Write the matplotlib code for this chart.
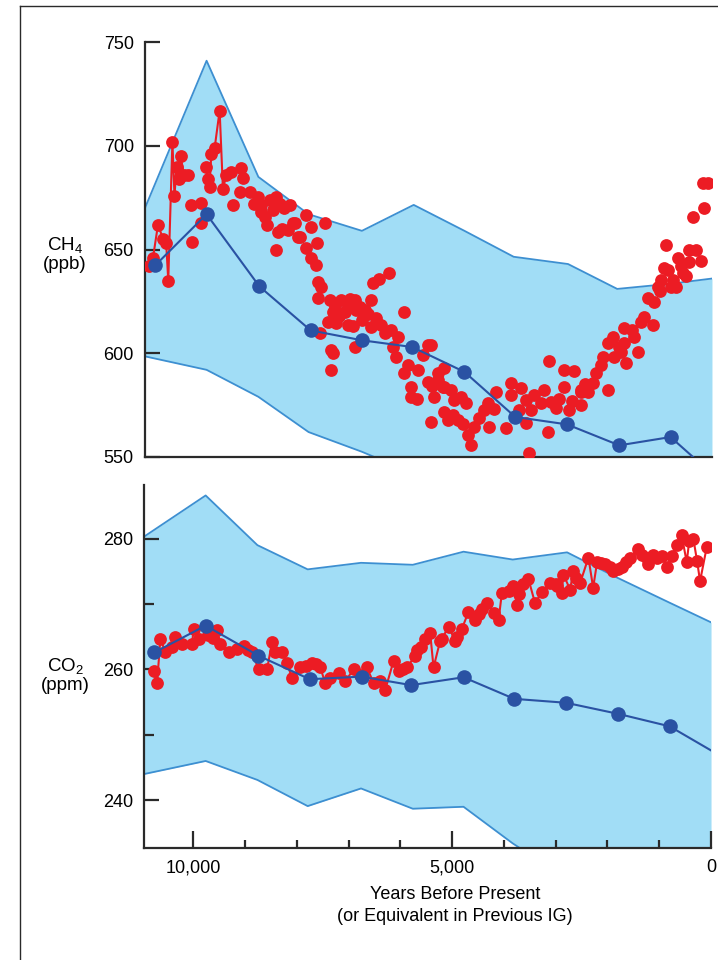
import matplotlib
matplotlib.use('Agg')
import matplotlib.pyplot as plt
from matplotlib.lines import Line2D

plt.rcParams['font.family'] = ['Liberation Sans', 'DejaVu Sans']

# --- shaded envelope (range of previous interglacials) ---
env_years = [10950, 9760, 8760, 7790, 6760, 5760, 4780, 3830, 2780, 1830, 800, 0]
ch4_env_hi = [670, 741, 685, 667, 659, 671.5, 659, 646.5, 643, 631, 633.5, 636]
ch4_env_lo = [598.5, 592, 579, 562, 552.5, 542, 530, 520, 510, 500, 490, 480]
co2_env_hi = [280.3, 286.6, 279, 275.3, 276.3, 276, 278, 276.8, 277.9, 274.1, 270.2, 267.2]
co2_env_lo = [244, 246, 243.1, 239.1, 241.8, 238.7, 239, 233.4, 228, 223, 218, 214]

# --- blue: average of previous interglacials ---
avg_years = [10750, 9760, 8740, 7750, 6750, 5790, 4780, 3800, 2800, 1790, 800, -220]
ch4_avg = [642.4, 667, 632.2, 611, 606.2, 603, 591, 569.3, 565.7, 555.6, 559.6, 537]
co2_avg = [262.6, 266.7, 262.1, 258.5, 258.9, 257.6, 258.8, 255.5, 254.9, 253.2, 251.3, 246.6]

# --- red: Holocene CH4 (early part shown joined by a line) ---
ch4_seg1_years = [10880, 10795, 10698, 10600, 10540, 10500, 10420, 10380, 10340, 10300, 10261, 10200]
ch4_seg1 = [642, 646, 662, 655, 653, 635, 702, 676, 690, 684, 695, 686]
ch4_seg2_years = [9766, 9733, 9702, 9669, 9604, 9508, 9444, 9380, 9283]
ch4_seg2 = [690, 684, 680, 696, 699, 717, 679, 686, 687.5]

ch4_years = [10120, 10055, 9862, 10042, 9862, 9103, 9058, 9251, 9123, 8930, 8850, 8769,
             8704, 8700, 8640, 8600, 8544, 8480, 8415, 8382, 8415, 8350, 8300, 8260, 8190,
             8093, 8158, 7996, 8062, 7836, 7739, 7482, 7965, 7836, 7624, 7739, 7643, 7610,
             7546, 7610, 7385, 7288, 7160, 7031, 6902, 6806, 6581, 7320, 7096, 6870, 6710,
             7417, 7256, 7031, 6934, 7578, 7353, 7320, 7353, 6902, 6552, 6421, 6228, 6485,
             6388, 6581, 6324, 6195, 6066, 6163, 6099, 5939, 5487, 5584, 5874, 5681, 5939,
             5810, 5487, 5294, 5198, 5810, 5423, 5167, 5294, 5167, 5360, 5037, 4973, 4844,
             4748, 5167, 5101, 4909, 5423, 4587, 4716, 4651, 4394, 4329, 4169, 4297, 3976,
             3879, 3879, 3686, 3590, 3430, 3237, 3719, 3493, 3590, 3140, 3172, 3107, 3011,
             2851, 2658, 2851, 2754, 2528, 2528, 2400, 3526, 2528, 2303, 2239, 2142, 2013,
             2013, 1917, 1885, 1756, 1692, 1660, 1692, 1499, 1435, 1370, 1306, 1145, 1241,
             1113, 1048, 919, 758, 695, 566, 438, 438, 309, 212, 662, 888, 373, 149, 180,
             83, 984, 791,
             7200, 7000, 6750, 6650, 5700, 5400, 5000, 4800, 4500, 4200, 3300, 2950, 2700,
             2450, 2100, 1800, 1550, 1000, 850, 600, 500]
ch4_vals = [686, 671.4, 672.3, 653.8, 662.6, 689.1, 684.3, 671.4, 677.9, 677.9, 672, 675.5,
            671.4, 668, 665.8, 662, 673.9, 669, 675.5, 658.6, 649.8, 672, 660, 670, 659.4,
            662.6, 671.4, 656.2, 662.6, 666.6, 661, 662.6, 656.2, 650.6, 653, 645.8, 642.5, 634.5,
            632, 626.5, 625.7, 622.4, 625.7, 622.4, 625.7, 622.4, 625.7, 620, 620, 621, 621,
            615.2, 614.4, 613.6, 613.1, 609.6, 601.6, 600, 592, 603.2, 633.7, 636, 638.5, 616.8,
            613.6, 612.8, 609.6, 611.2, 608, 603.2, 598.4, 620, 604, 599.2, 594.3, 592, 590.3,
            583.9, 586.3, 590.3, 583.9, 579, 604, 592.8, 587.1, 583.9, 579, 582.3, 577.5, 579,
            575.9, 571.8, 567.8, 567.8, 567, 564.6, 560.6, 555.8, 572.6, 575.9, 581.5, 564.6, 563.8,
            585.5, 579.9, 583.1, 577.5, 579.9, 582.3, 572.6, 572.6, 566.2, 596.4, 562.2, 576.7, 573.5,
            592, 591.2, 583.9, 572.6, 575, 581.5, 581.5, 551.8, 582.3, 585.5, 590.3, 594.3, 582.3,
            604.8, 608, 598.4, 600.8, 604.8, 595.2, 612, 608, 600.8, 615.2, 617.6, 613.6, 626.5,
            624.9, 632, 641, 635.3, 632, 638.5, 644.1, 649.8, 649.8, 644.6, 645.8, 652.2, 665.8, 669.9, 681.9,
            681.9, 635.3, 632,
            618, 626, 616, 619, 578, 584, 570, 566, 569, 573, 576, 578, 577,
            585, 598, 603, 611, 630, 640, 642, 637]

# --- red: Holocene CO2 ---
co2_years = [10765, 10698, 10634, 10538, 10409, 10345, 10216, 10023, 9991, 9895, 9708, 9620, 9540,
             9476, 9316, 9154, 9026, 8950, 8864, 8736, 8574, 8478, 8415, 8285, 8189, 8093, 7933,
             7820, 7707, 7620, 7546, 7450, 7353, 7193, 7064, 6902, 6780, 6645, 6516, 6400, 6291,
             6131, 6034, 5950, 5873, 5713, 5681, 5600, 5520, 5423, 5359, 5230, 5198, 5069, 4941,
             4900, 4812, 4684, 4555, 4480, 4426, 4329, 4201, 4104, 4039, 3900, 3815, 3751, 3700,
             3622, 3526, 3397, 3268, 3107, 3000, 2978, 2883, 2851, 2721, 2658, 2600, 2528, 2368,
             2277, 2200, 2130, 2046, 1950, 1885, 1800, 1723, 1640, 1563, 1402, 1330, 1241, 1209,
             1130, 1048, 952, 856, 759, 663, 566, 470, 420, 342, 270, 212, 83]
co2_vals = [259.8, 257.9, 264.7, 262.6, 263.4, 264.9, 263.9, 263.9, 266.2, 264.7, 265.2, 264.8, 266.0,
            263.9, 262.6, 263.1, 263.6, 263.0, 262.6, 260.0, 260.0, 264.2, 262.6, 262.6, 261.0, 258.7, 260.3,
            260.5, 261.0, 260.8, 260.3, 257.9, 258.7, 259.5, 258.2, 260.0, 259.2, 260.3, 257.9, 258.3, 256.9,
            261.3, 259.8, 260.0, 260.3, 262.1, 262.9, 263.5, 264.7, 265.5, 260.3, 264.4, 264.7, 266.5, 264.4,
            265.0, 266.2, 268.8, 267.5, 268.5, 269.3, 270.1, 268.6, 267.5, 271.7, 272.0, 272.7, 269.9, 271.5,
            273.0, 273.8, 270.1, 271.9, 273.2, 273.0, 272.7, 271.7, 274.5, 272.2, 275.1, 274.0, 273.2, 277.1,
            272.5, 276.4, 276.2, 276.1, 275.6, 275.1, 275.4, 275.6, 276.5, 277.1, 278.4, 277.5, 277.1, 276.1,
            277.5, 277.1, 277.4, 275.6, 277.4, 279.0, 280.5, 276.4, 279.7, 280.0, 276.6, 273.5, 278.7]

FILL = '#a1ddf6'
EDGE = '#3d8fd1'
BLUE = '#2a52a3'
RED = '#ec1c24'
AXC = '#2a2a2a'
RMS = 9.2
BMS = 10.5


def style_axes(ax):
    for s in ['top', 'right']:
        ax.spines[s].set_visible(False)
    for s in ['left', 'bottom']:
        ax.spines[s].set_linewidth(1.6)
        ax.spines[s].set_color(AXC)
    ax.set_xlim(10950, 0)
    ax.tick_params(axis='y', direction='in', length=11, width=1.6, color=AXC,
                   labelsize=13, pad=8)


def draw_envelope(ax, hi, lo):
    ax.fill_between(env_years, lo, hi, color=FILL, lw=0, zorder=1)
    ax.plot(env_years, hi, color=EDGE, lw=1.3, zorder=2)
    ax.plot(env_years, lo, color=EDGE, lw=1.3, zorder=2)


fig = plt.figure(figsize=(7.18, 9.6), dpi=100)

# --- CH4 panel ---
ax1 = fig.add_axes([0.2019, 0.5240, 0.7897, 0.4322])
draw_envelope(ax1, ch4_env_hi, ch4_env_lo)
ax1.plot(ch4_years, ch4_vals, 'o', color=RED, ms=RMS, mec='none', zorder=3)
ax1.plot(ch4_seg1_years, ch4_seg1, 'o-', color=RED, ms=RMS, mec='none', lw=1.5, zorder=3)
ax1.plot(ch4_seg2_years, ch4_seg2, 'o-', color=RED, ms=RMS, mec='none', lw=1.5, zorder=3)
ax1.plot(avg_years, ch4_avg, 'o-', color=BLUE, ms=BMS, mec='none', lw=1.5, zorder=4)
style_axes(ax1)
ax1.set_ylim(550, 750)
ax1.set_yticks([550, 600, 650, 700, 750])
ax1.tick_params(axis='x', bottom=False, labelbottom=False)

# --- CO2 panel ---
ax2 = fig.add_axes([0.2006, 0.1167, 0.7897, 0.3781])
draw_envelope(ax2, co2_env_hi, co2_env_lo)
ax2.plot(co2_years, co2_vals, 'o-', color=RED, ms=RMS, mec='none', lw=1.5, zorder=3)
ax2.plot(avg_years, co2_avg, 'o-', color=BLUE, ms=BMS, mec='none', lw=1.5, zorder=4)
style_axes(ax2)
ax2.set_ylim(232.7, 288.2)
ax2.set_yticks([240, 260, 280])
ax2.set_yticks([250, 270], minor=True)
ax2.tick_params(axis='y', which='minor', direction='in', length=7, width=1.6, color=AXC)
ax2.set_xticks([10000, 5000, 0])
ax2.set_xticklabels(['10,000', '5,000', '0'])
ax2.set_xticks([9000, 8000, 7000, 6000, 4000, 3000, 2000, 1000], minor=True)
ax2.tick_params(axis='x', which='major', direction='in', length=12, width=1.6,
                color=AXC, labelsize=13, pad=8)
ax2.tick_params(axis='x', which='minor', direction='in', length=6, width=1.6, color=AXC)

# --- labels ---
fig.text(0.0905, 0.735, 'CH$_\\mathregular{4}$\n(ppb)', ha='center', va='center',
         fontsize=13.5, linespacing=1.0)
fig.text(0.0905, 0.297, 'CO$_\\mathregular{2}$\n(ppm)', ha='center', va='center',
         fontsize=13.5, linespacing=1.0)
fig.text(0.634, 0.057, 'Years Before Present\n(or Equivalent in Previous IG)',
         ha='center', va='center', fontsize=13, linespacing=1.35)

# --- frame lines of the original figure box ---
fig.add_artist(Line2D([20 / 718, 20 / 718], [0, 1 - 6 / 960], transform=fig.transFigure,
                      color=AXC, lw=1.0))
fig.add_artist(Line2D([20 / 718, 1], [1 - 6 / 960, 1 - 6 / 960], transform=fig.transFigure,
                      color=AXC, lw=1.0))

fig.savefig('out.png', dpi=100)
